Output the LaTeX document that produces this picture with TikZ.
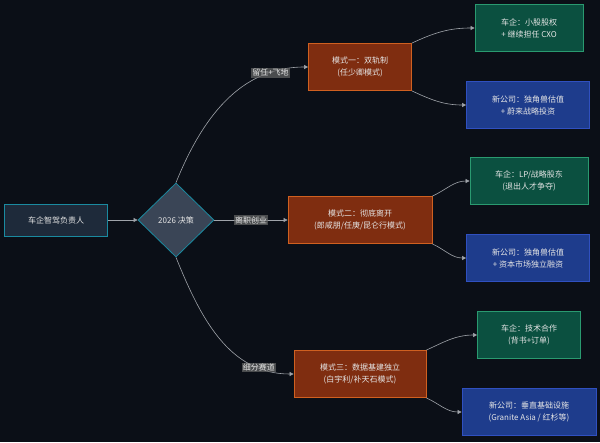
\documentclass[tikz,border=0pt]{standalone}
\usepackage{fontspec}
\setmainfont{Noto Sans CJK SC}
\usetikzlibrary{arrows.meta,shapes.geometric,positioning,backgrounds}
\definecolor{bgc}{HTML}{0B0F17}
\definecolor{rootfill}{HTML}{1E2A3A}
\definecolor{teal}{HTML}{1A8AA0}
\definecolor{dia}{HTML}{3A4556}
\definecolor{orfill}{HTML}{7F2D10}
\definecolor{ordraw}{HTML}{D06020}
\definecolor{grfill}{HTML}{0B5040}
\definecolor{grdraw}{HTML}{2A9A70}
\definecolor{blfill}{HTML}{1E3C8C}
\definecolor{bldraw}{HTML}{3050C0}
\definecolor{edge}{HTML}{A0A4AA}
\begin{document}
\begin{tikzpicture}[
    x=1pt,y=-1pt,
    font=\fontsize{8}{12}\selectfont,
    text=white!90!black,
    box/.style={
        % The shape:
        rectangle,
        minimum height=47pt,
        align=center,
        line width=0.8pt},
    root/.style={box,fill=rootfill,draw=teal,minimum height=32pt},
    mode/.style={box,fill=orfill,draw=ordraw},
    car/.style={box,fill=grfill,draw=grdraw},
    newco/.style={box,fill=blfill,draw=bldraw},
    link/.style={draw=edge,line width=0.6pt,-{Triangle[length=4pt,width=4pt]}},
    tag/.style={fill=black!60!white,fill opacity=0.7,text opacity=1,inner sep=1pt}
  ]
  \fill[bgc] (0,0) rectangle (600,442);
  % left side
  \node (lead) [root,minimum width=103pt] at (56,220) {车企智驾负责人};
  \node (pick) [diamond,fill=dia,draw=teal,line width=0.8pt,minimum width=76pt,minimum height=74pt,inner sep=0pt] at (176,220) {2026 决策};
  % modes
  \node (m1) [mode,minimum width=103pt] at (360,67) {模式一：双轨制\\(任少卿模式)};
  \node (m2) [mode,minimum width=144pt] at (360,220) {模式二：彻底离开\\(郎咸朋/任庚/昆仑行模式)};
  \node (m3) [mode,minimum width=132pt] at (360,374) {模式三：数据基建独立\\(白宇利/补天石模式)};
  % outcomes
  \node (c1) [car,minimum width=108pt] at (529,28) {车企：小股股权\\+ 继续担任 CXO};
  \node (n1) [newco,minimum width=123pt] at (528,105) {新公司：独角兽估值\\+ 蔚来战略投资};
  \node (c2) [car,minimum width=118pt] at (529,181) {车企：LP/战略股东\\(退出人才争夺)};
  \node (n2) [newco,minimum width=123pt] at (528,258) {新公司：独角兽估值\\+ 资本市场独立融资};
  \node (c3) [car,minimum width=103pt] at (529,335) {车企：技术合作\\(背书+订单)};
  \node (n3) [newco,minimum width=134pt] at (529,412) {新公司：垂直基础设施\\(Granite Asia / 红杉等)};
  \draw [link] (lead) -- (pick);
  \draw [link] (pick.north) to[out=68,in=180] node[tag,pos=0.8] {留任+飞地} (m1.west);
  \draw [link] (pick.east) -- node[tag] {离职创业} (m2.west);
  \draw [link] (pick.south) to[out=-68,in=180] node[tag,pos=0.8] {细分赛道} (m3.west);
  \foreach \m/\a/\b in {m1/c1/n1,m2/c2/n2,m3/c3/n3}{
    \draw [link] (\m.north east) to[out=25,in=180] (\a.west);
    \draw [link] (\m.south east) to[out=-25,in=180] (\b.west);
  }
\end{tikzpicture}
\end{document}
